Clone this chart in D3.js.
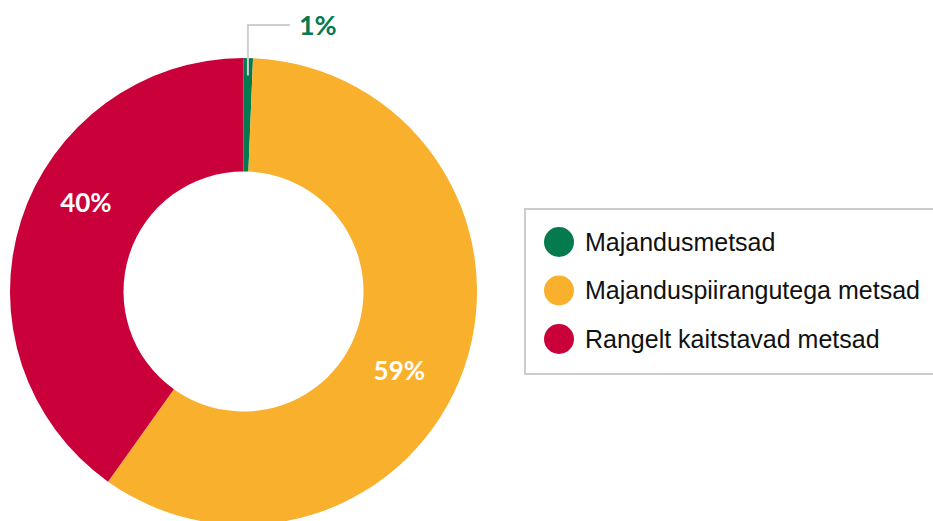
<!doctype html>
<html>
<head>
<script src="https://d3js.org/d3.v7.min.js"></script>
<style>
  body { margin: 0; background: #fff; }
  svg { display: block; }
</style>
</head>
<body>
<script>
  // data
  var categories = ["Majandusmetsad", "Majanduspiirangutega metsad", "Rangelt kaitstavad metsad"];
  var values = [0.65, 59.2, 40.15];
  var labels = ["1%", "59%", "40%"];
  var colors = ["#047a4e", "#f9b02c", "#c9003a"];

  var W = 933, H = 521;
  var cx = 243.5, cy = 291.5, outerR = 233.5, innerR = 120;

  var svg = d3.select("body").append("svg").attr("width", W).attr("height", H);
  var g = svg.append("g").attr("transform", "translate(" + cx + "," + cy + ")");

  var pie = d3.pie().sort(null).value(function(d){ return d; });
  var arcs = pie(values);
  var arc = d3.arc().innerRadius(innerR).outerRadius(outerR);

  g.selectAll("path.slice").data(arcs).enter().append("path")
    .attr("class", "slice")
    .attr("d", arc)
    .attr("fill", function(d, i){ return colors[i]; });

  // labels inside the big slices
  var shift = 10 * Math.PI / 180;
  var labelArc = d3.arc().innerRadius(178).outerRadius(178);
  g.selectAll("text.inlab").data(arcs.filter(function(d){ return d.index > 0; })).enter().append("text")
    .attr("class", "inlab")
    .attr("transform", function(d){
      var c = labelArc.centroid({startAngle: d.startAngle + shift, endAngle: d.endAngle + shift});
      return "translate(" + c[0] + "," + c[1] + ")";
    })
    .attr("text-anchor", "middle")
    .attr("dy", "0.11em")
    .attr("fill", "#fff")
    .style("font", "700 26px Lato, 'Open Sans', sans-serif")
    .text(function(d){ return labels[d.index]; });

  // leader for the small slice
  var small = arcs[0];
  var mid = (small.startAngle + small.endAngle) / 2;
  var p0 = [216 * Math.sin(mid), -216 * Math.cos(mid)];
  var yTop = -266.5;
  g.append("polyline")
    .attr("points", [p0, [p0[0], yTop], [p0[0] + 42, yTop]].map(function(p){ return p.join(","); }).join(" "))
    .attr("fill", "none")
    .attr("stroke", "#cfcfcf")
    .attr("stroke-width", 2);
  g.append("text")
    .attr("x", p0[0] + 51)
    .attr("y", yTop)
    .attr("dy", "0.36em")
    .attr("fill", colors[0])
    .style("font", "700 27px Lato, 'Open Sans', sans-serif")
    .text(labels[0]);

  // legend
  var leg = svg.append("g");
  leg.append("rect")
    .attr("x", 525).attr("y", 209).attr("width", 420).attr("height", 165)
    .attr("fill", "#fff").attr("stroke", "#cccccc").attr("stroke-width", 2);
  var items = leg.selectAll("g.item").data(categories).enter().append("g")
    .attr("class", "item")
    .attr("transform", function(d, i){ return "translate(559," + (242 + i * 48.5) + ")"; });
  items.append("circle").attr("r", 15).attr("fill", function(d, i){ return colors[i]; });
  items.append("text")
    .attr("x", 26)
    .attr("dy", "0.35em")
    .attr("fill", "#111")
    .style("font", "25px 'Liberation Sans', Arial, sans-serif")
    .text(function(d){ return d; });
</script>
</body>
</html>
